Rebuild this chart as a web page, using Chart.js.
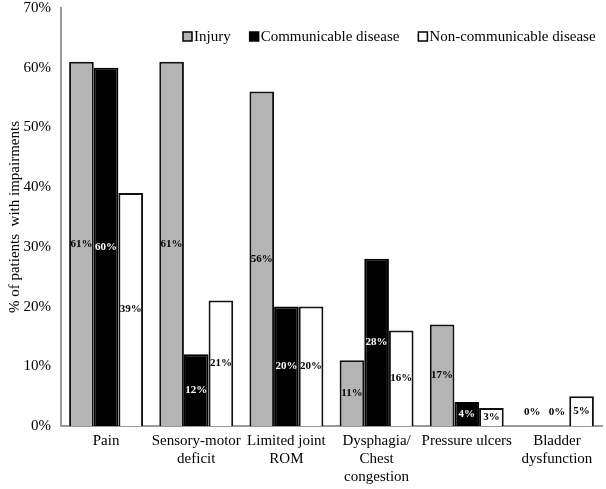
<!DOCTYPE html>
<html>
<head>
<meta charset="utf-8">
<script src="https://cdn.jsdelivr.net/npm/chart.js@4"></script>
<style>
  html, body { margin: 0; padding: 0; background: #fff; }
  #wrap { width: 606px; height: 489px; }
</style>
</head>
<body>
<div id="wrap"><canvas id="grafico"></canvas></div>
<script>
const categorias = [
  'Pain',
  ['Sensory-motor', 'deficit'],
  ['Limited joint', 'ROM'],
  ['Dysphagia/', 'Chest', 'congestion'],
  'Pressure ulcers',
  ['Bladder', 'dysfunction']
];
const injury = [61, 61, 56, 11, 17, 0];
const communicable = [60, 12, 20, 28, 4, 0];
const nonCommunicable = [39, 21, 20, 16, 3, 5];
const yTicks = [0, 10, 20, 30, 40, 50, 60, 70];

const serif = '"Liberation Serif", "DejaVu Serif", serif';

// rótulos no meio de cada barra
const rotulos = {
  id: 'rotulos',
  afterDatasetsDraw(chart) {
    const ctx = chart.ctx;
    const base = chart.scales.y.getPixelForValue(0);
    chart.data.datasets.forEach((ds, i) => {
      const meta = chart.getDatasetMeta(i);
      meta.data.forEach((bar, j) => {
        const v = ds.data[j];
        let y = (bar.y + bar.base) / 2;
        let cor = ds.labelColor;
        if (v === 0) { y = base - 14; cor = '#000'; }
        ctx.save();
        ctx.font = 'bold 11px ' + serif;
        ctx.fillStyle = cor;
        ctx.textAlign = 'center';
        ctx.textBaseline = 'middle';
        ctx.fillText(v + '%', bar.x, y);
        ctx.restore();
      });
    });
  }
};

// legenda desenhada à mão dentro da área do gráfico
const legenda = {
  id: 'legenda',
  afterDraw(chart) {
    const ctx = chart.ctx;
    let x = 183;
    const y = 37;
    ctx.save();
    ctx.font = '15px ' + serif;
    ctx.textBaseline = 'middle';
    chart.data.datasets.forEach(ds => {
      ctx.fillStyle = ds.backgroundColor;
      ctx.fillRect(x, y - 5, 9, 9);
      ctx.strokeStyle = '#000';
      ctx.lineWidth = 1.5;
      ctx.strokeRect(x, y - 5, 9, 9);
      ctx.fillStyle = '#000';
      ctx.fillText(ds.label, x + 11, y);
      x += 11 + ctx.measureText(ds.label).width + 19;
    });
    ctx.restore();
  }
};

new Chart(document.getElementById('grafico').getContext('2d'), {
  type: 'bar',
  data: {
    labels: categorias,
    datasets: [
      { label: 'Injury', data: injury, backgroundColor: '#b4b4b4', borderColor: '#111', borderWidth: 2, labelColor: '#000' },
      { label: 'Communicable disease', data: communicable, backgroundColor: '#000', borderColor: '#000', borderWidth: 2, labelColor: '#fff' },
      { label: 'Non-communicable disease', data: nonCommunicable, backgroundColor: '#fff', borderColor: '#111', borderWidth: 2, labelColor: '#000' }
    ]
  },
  options: {
    responsive: true,
    maintainAspectRatio: false,
    animation: false,
    layout: { padding: { top: 8, right: 4, left: 6, bottom: 0 } },
    datasets: { bar: { categoryPercentage: 0.82, barPercentage: 1 } },
    plugins: {
      legend: { display: false },
      tooltip: { enabled: false }
    },
    scales: {
      x: {
        afterFit: ax => { ax.height = 63; ax.paddingLeft = 0; ax.paddingRight = 0; },
        grid: { display: false, drawTicks: false },
        border: { color: '#999', width: 2 },
        ticks: { color: '#000', font: { family: serif, size: 15, lineHeight: 1.2 }, padding: 6, maxRotation: 0, autoSkip: false }
      },
      y: {
        min: 0, max: 70,
        afterBuildTicks: ax => { ax.ticks = yTicks.map(v => ({ value: v })); },
        afterFit: ax => { ax.width = 55; ax.paddingTop = 0; ax.paddingBottom = 0; },
        grid: { display: false, drawTicks: false },
        border: { color: '#999', width: 2 },
        ticks: { color: '#000', font: { family: serif, size: 15 }, padding: 10, callback: v => v + '%' },
        title: { display: true, text: '% of patients  with impairments', color: '#000', font: { family: serif, size: 15 }, padding: 0 }
      }
    }
  },
  plugins: [rotulos, legenda]
});
</script>
</body>
</html>
